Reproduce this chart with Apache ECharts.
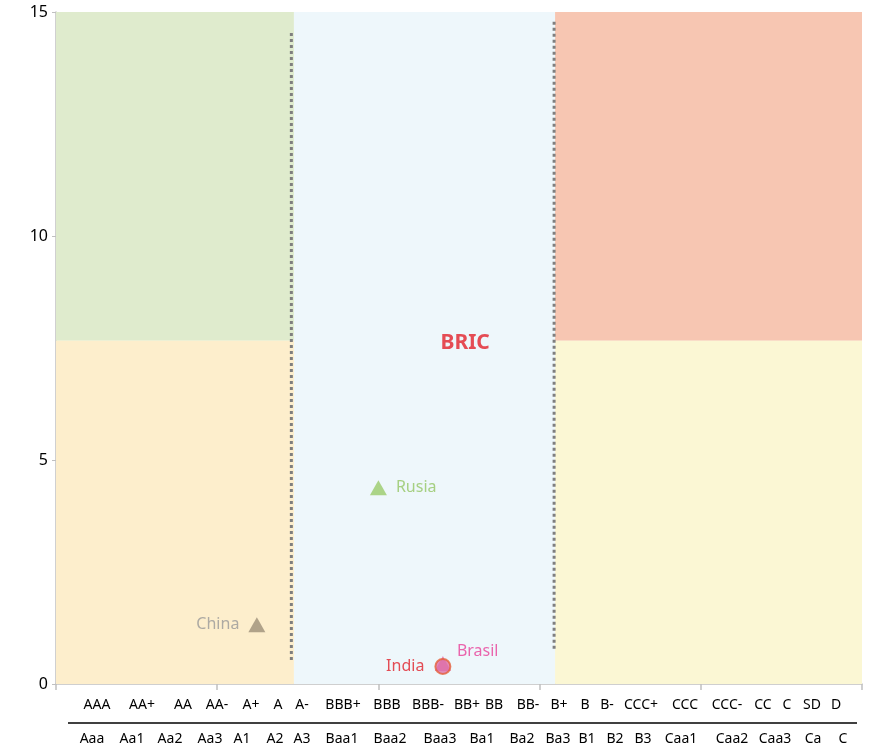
<!DOCTYPE html>
<html>
<head>
<meta charset="utf-8">
<script src="https://cdn.jsdelivr.net/npm/echarts@6/dist/echarts.min.js"></script>
<style>
  html, body { margin: 0; padding: 0; background: #fff; }
  #chart { width: 872px; height: 747px; }
</style>
</head>
<body>
<div id="chart"></div>
<script>
// 国家数据点
const countries = ['China', 'Rusia', 'India', 'Brasil'];
const countryX = [6.23, 10.0, 12.0, 12.0];
const countryY = [1.32, 4.38, 0.39, 0.46];

// 坐标轴刻度
const yTicks = [0, 5, 10, 15];
const xTicks = [0, 5, 10, 15, 20, 25];

// 评级标签 (S&P / Moody's)
const spRatings = ['AAA', 'AA+', 'AA', 'AA-', 'A+', 'A', 'A-', 'BBB+', 'BBB', 'BBB-', 'BB+', 'BB', 'BB-',
  'B+', 'B', 'B-', 'CCC+', 'CCC', 'CCC-', 'CC', 'C', 'SD', 'D'];
const moodysRatings = ['Aaa', 'Aa1', 'Aa2', 'Aa3', 'A1', 'A2', 'A3', 'Baa1', 'Baa2', 'Baa3', 'Ba1', 'Ba2', 'Ba3',
  'B1', 'B2', 'B3', 'Caa1', 'Caa2', 'Caa3', 'Ca', 'C'];

// 区域边界
const zoneX = [0, 7.38, 15.48, 25];
const zoneY = [0, 7.66, 15];
const divider1 = [[7.30, 14.53], [7.30, 0.47]];
const divider2 = [[15.45, 14.78], [15.45, 0.74]];
const bricPoint = [12.69, 7.61];

// 标签的像素位置 (布局)
const spLabelX = [97, 142, 183, 217, 251, 278, 302, 343, 387, 428, 467, 494, 528, 559, 585, 607, 641, 685, 727, 763, 787, 812, 836];
const moodysLabelX = [92, 132, 170, 210, 242, 275, 302, 342, 390, 440, 482, 522, 558, 587, 615, 643, 681, 732, 775, 813, 843];

const FONT = '"Noto Sans", "Open Sans", sans-serif';

const markerStyle = {
  China: { symbol: 'triangle', size: [17, 15], color: '#9C8F78', border: null, labelColor: '#999999', pos: 'left', dist: 9, offset: [0, 0] },
  Rusia: { symbol: 'triangle', size: [17, 15], color: '#9ACB6A', border: null, labelColor: '#93C664', pos: 'right', dist: 9, offset: [0, 0] },
  Brasil: { symbol: 'triangle', size: [16, 15], color: '#E26AA8', border: null, labelColor: '#E83E98', pos: 'right', dist: 6, offset: [0, -12] },
  India: { symbol: 'circle', size: 15, color: '#DD6FA8', border: '#E5603A', labelColor: '#E0202A', pos: 'left', dist: 10, offset: [0, 0] }
};

const chart = echarts.init(document.getElementById('chart'));

const zones = [
  { x: [zoneX[0], zoneX[1]], y: [zoneY[1], zoneY[2]], color: '#DFEBCD' },
  { x: [zoneX[0], zoneX[1]], y: [zoneY[0], zoneY[1]], color: '#FDEECC' },
  { x: [zoneX[1], zoneX[2]], y: [zoneY[0], zoneY[2]], color: '#EEF7FB' },
  { x: [zoneX[2], zoneX[3]], y: [zoneY[1], zoneY[2]], color: '#F7C6B2' },
  { x: [zoneX[2], zoneX[3]], y: [zoneY[0], zoneY[1]], color: '#FBF7D4' }
];

// 绘制顺序: Brasil 在 India 下面
const order = ['China', 'Rusia', 'Brasil', 'India'];
const pointSeries = order.map(name => {
  const i = countries.indexOf(name);
  const s = markerStyle[name];
  return {
    name: name,
    type: 'scatter',
    z: 5,
    symbol: s.symbol,
    symbolSize: s.size,
    data: [[countryX[i], countryY[i]]],
    itemStyle: s.border ? { color: s.color, borderColor: s.border, borderWidth: 2 } : { color: s.color },
    label: {
      show: true,
      formatter: name,
      position: s.pos,
      distance: s.dist,
      offset: s.offset,
      color: s.labelColor,
      fontSize: 16,
      fontFamily: FONT
    },
    emphasis: { disabled: true }
  };
});

const graphic = [];
spRatings.forEach((t, i) => {
  graphic.push({
    type: 'text', x: spLabelX[i], y: 705, silent: true,
    style: { text: t, fill: '#000', font: '14px ' + FONT, textAlign: 'center', verticalAlign: 'middle' }
  });
});
moodysRatings.forEach((t, i) => {
  graphic.push({
    type: 'text', x: moodysLabelX[i], y: 739, silent: true,
    style: { text: t, fill: '#000', font: '14px ' + FONT, textAlign: 'center', verticalAlign: 'middle' }
  });
});
graphic.push({
  type: 'line', silent: true,
  shape: { x1: 68, y1: 723, x2: 857, y2: 723 },
  style: { stroke: '#000', lineWidth: 1.5 }
});

const option = {
  animation: false,
  grid: { left: 56, right: 10, top: 12, bottom: 63 },
  xAxis: {
    type: 'value',
    min: xTicks[0],
    max: xTicks[xTicks.length - 1],
    interval: 5,
    axisLine: { show: true, onZero: false, lineStyle: { color: '#C0C0C0', width: 1.5 } },
    axisTick: { show: true, length: 6, lineStyle: { color: '#C0C0C0', width: 1.5 } },
    axisLabel: { show: false },
    splitLine: { show: false }
  },
  yAxis: {
    type: 'value',
    min: yTicks[0],
    max: yTicks[yTicks.length - 1],
    interval: 5,
    axisLine: { show: true, lineStyle: { color: '#C0C0C0', width: 1.5 } },
    axisTick: { show: true, length: 4, lineStyle: { color: '#C0C0C0' } },
    axisLabel: { color: '#000', fontSize: 16, fontFamily: FONT, margin: 8 },
    splitLine: { show: false }
  },
  graphic: graphic,
  series: [
    {
      type: 'scatter',
      data: [],
      silent: true,
      markArea: {
        silent: true,
        data: zones.map(z => [
          { coord: [z.x[0], z.y[1]], itemStyle: { color: z.color } },
          { coord: [z.x[1], z.y[0]] }
        ])
      }
    },
    {
      type: 'line', data: divider1, symbol: 'none', silent: true, z: 3,
      lineStyle: { color: '#7F7F7F', width: 3, type: [3, 3] }
    },
    {
      type: 'line', data: divider2, symbol: 'none', silent: true, z: 3,
      lineStyle: { color: '#7F7F7F', width: 3, type: [3, 3] }
    },
    {
      type: 'scatter', data: [bricPoint], symbolSize: 0, silent: true, z: 4,
      label: {
        show: true, formatter: 'BRIC', position: 'inside',
        color: '#E2202A', fontSize: 21, fontWeight: 'bold', fontFamily: FONT
      }
    },
    ...pointSeries
  ]
};

chart.setOption(option);
</script>
</body>
</html>
